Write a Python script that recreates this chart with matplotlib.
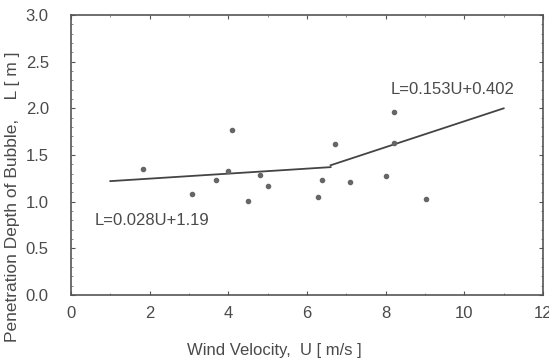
import matplotlib.pyplot as plt
from matplotlib.ticker import MultipleLocator

plt.rcParams['font.family'] = ['Liberation Sans', 'DejaVu Sans']

# measured points
wind = [1.82, 3.08, 3.69, 4.00, 4.10, 4.51, 4.81, 5.01, 6.28, 6.38, 6.70, 7.09, 8.02, 8.22, 8.22, 9.02]
depth = [1.35, 1.08, 1.23, 1.33, 1.77, 1.01, 1.29, 1.17, 1.05, 1.23, 1.62, 1.21, 1.28, 1.96, 1.63, 1.03]

# fitted lines (end points)
low_u = [1.0, 6.6]
low_l = [1.22, 1.37]
high_u = [6.6, 11.0]
high_l = [1.39, 2.0]

xticks = [0, 2, 4, 6, 8, 10, 12]
yticks = [0.0, 0.5, 1.0, 1.5, 2.0, 2.5, 3.0]

ink = '#4a4a4a'

fig = plt.figure(figsize=(5.49, 3.59), dpi=100)
ax = fig.add_axes([71/549, 1 - 295/359, 472/549, 280/359])

ax.plot(low_u, low_l, color='#444444', lw=1.3)
ax.plot(high_u, high_l, color='#444444', lw=1.3)
ax.scatter(wind, depth, s=9, color='#666666', zorder=3)

ax.text(8.12, 2.2, 'L=0.153U+0.402', color=ink, fontsize=12, va='center')
ax.text(0.61, 0.80, 'L=0.028U+1.19', color=ink, fontsize=12, va='center')

ax.set_xlim(0, 12)
ax.set_ylim(0, 3.0)
ax.set_xticks(xticks)
ax.set_yticks(yticks)
ax.set_yticklabels(['%.1f' % v for v in yticks])
ax.xaxis.set_minor_locator(MultipleLocator(1))
ax.yaxis.set_minor_locator(MultipleLocator(0.1))
ax.tick_params(which='major', direction='in', length=3, top=True, right=True,
               labelsize=12, labelcolor=ink, color='#555555')
ax.tick_params(axis='y', which='major', pad=16)
ax.tick_params(axis='x', which='major', pad=8)
ax.tick_params(which='minor', direction='in', length=1.5, top=True, right=True, color='#777777')
for s in ax.spines.values():
    s.set_color('#555555')
    s.set_linewidth(1.2)

ax.set_xlabel('Wind Velocity,  U [ m/s ]', fontsize=12, color=ink)
ax.set_ylabel('Penetration Depth of Bubble,    L [ m ]', fontsize=12.5, color=ink)
ax.xaxis.set_label_coords(0.43, -0.17)
ax.yaxis.set_label_coords(-0.108, 0.35)

fig.savefig('out.png')
